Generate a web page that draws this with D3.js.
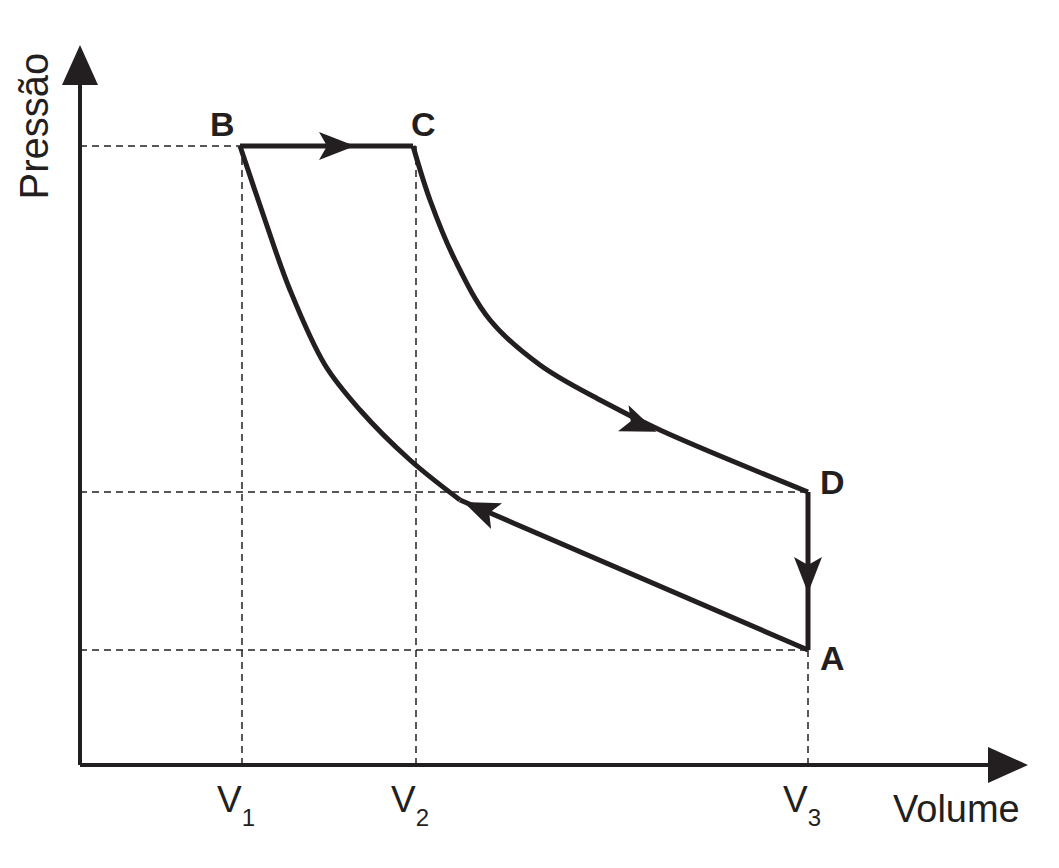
<!DOCTYPE html>
<html><head><meta charset="utf-8">
<script src="https://cdn.jsdelivr.net/npm/d3@7"></script>
<style>body{margin:0;background:#fff}</style></head>
<body><svg id="c" width="1059" height="868"></svg>
<script>
const volumes=[162,336,728]; // V1,V2,V3
const volumeLabels=["V","V","V"], volumeSubs=["1","2","3"];
const pressures={BC:619,D:273,A:115};
const curveCD=[[333,619],[350,565],[375,505],[410,445],[460,400],[520,365],[580,335],[728,273]];
const curveABstraight=[[728,115],[380,265]];
const curveAB=[[380,265],[330,305],[280,355],[245,400],[210,475],[185,545],[160,619]];
const pts={A:[728,115],B:[160,619],C:[333,619],D:[728,273]};
const x=d3.scaleLinear().domain([0,948]).range([80,1028]);
const y=d3.scaleLinear().domain([0,720]).range([765,45]);
const svg=d3.select("#c"),ink="#231f20";
const dash=(x1,y1,x2,y2)=>svg.append("line").attr("x1",x(x1)).attr("y1",y(y1)).attr("x2",x(x2)).attr("y2",y(y2)).attr("stroke",ink).attr("stroke-width",1.5).attr("stroke-dasharray","7,5");
dash(0,pressures.BC,pts.B[0],pressures.BC);
dash(0,pressures.D,volumes[2],pressures.D);
dash(0,pressures.A,volumes[2],pressures.A);
dash(volumes[0],pressures.BC,volumes[0],0);
dash(volumes[1],pressures.BC,volumes[1],0);
dash(volumes[2],pressures.A,volumes[2],0);
svg.append("line").attr("x1",x(0)).attr("y1",y(0)).attr("x2",x(0)).attr("y2",y(690)).attr("stroke",ink).attr("stroke-width",4);
svg.append("line").attr("x1",x(0)).attr("y1",y(0)).attr("x2",x(920)).attr("y2",y(0)).attr("stroke",ink).attr("stroke-width",4);
svg.append("path").attr("d",`M${x(0)},${y(720)}L${x(0)-18},${y(680)}L${x(0)+18},${y(680)}Z`).attr("fill",ink);
svg.append("path").attr("d",`M${x(948)},${y(0)}L${x(908)},${y(0)-18}L${x(908)},${y(0)+18}Z`).attr("fill",ink);
const line=d3.line().x(d=>x(d[0])).y(d=>y(d[1])).curve(d3.curveCatmullRom);
const P=(d)=>svg.append("path").attr("d",d).attr("fill","none").attr("stroke",ink).attr("stroke-width",5).attr("stroke-linejoin","round");
P(line([pts.B,pts.C]));
P(line(curveCD));
P(line([pts.D,pts.A]));
P(line(curveABstraight));
P(line(curveAB));
function head(px,py,ang){const L=36,W=14;
 svg.append("path").attr("d",`M${L/2},0L${-L/2},${-W}L${-L/2+8},0L${-L/2},${W}Z`).attr("fill",ink)
 .attr("transform",`translate(${x(px)},${y(py)}) rotate(${ang})`);}
head(257,619,0);
head(560,340,22);
head(728,190,90);
head(400,256,203);
const lab=(t,px,py,s,w)=>svg.append("text").attr("x",px).attr("y",py).attr("font-family","Liberation Sans, Arial").attr("font-size",s).attr("font-weight",w).attr("fill",ink).text(t);
lab("B",x(pts.B[0])-30,y(pts.B[1])-10,34,"bold");
lab("C",x(pts.C[0])-2,y(pts.C[1])-10,34,"bold");
lab("D",x(pts.D[0])+12,y(pts.D[1])+2,34,"bold");
lab("A",x(pts.A[0])+12,y(pts.A[1])+20,34,"bold");
volumes.forEach((v,i)=>{const t=svg.append("text").attr("x",x(v)-25).attr("y",812).attr("font-family","Liberation Sans, Arial").attr("font-size",37).attr("fill",ink).text(volumeLabels[i]);
 t.append("tspan").attr("font-size",24).attr("dy",14).text(volumeSubs[i]);});
lab("Volume",893,822,38,"normal");
svg.append("text").attr("transform","translate(48,126) rotate(-90)").attr("text-anchor","middle").attr("font-family","Liberation Sans, Arial").attr("font-size",40).attr("fill",ink).text("Pressão");
</script></body></html>
